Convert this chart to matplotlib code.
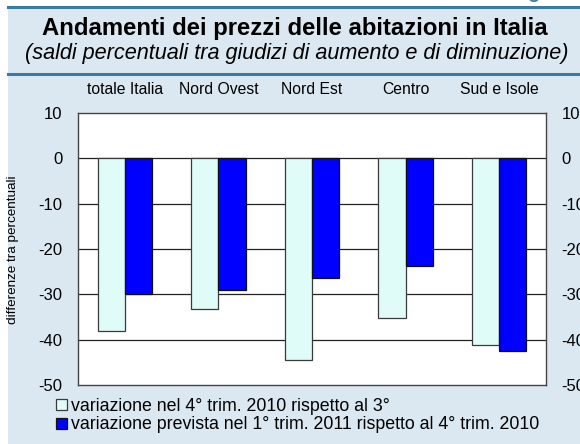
import matplotlib
matplotlib.use("Agg")
import matplotlib.pyplot as plt
import numpy as np
from matplotlib.patches import Rectangle
from matplotlib.lines import Line2D

plt.rcParams['font.family'] = ['Liberation Sans', 'DejaVu Sans']

categories = ["totale Italia", "Nord Ovest", "Nord Est", "Centro", "Sud e Isole"]
var_4trim_2010 = [-38.0, -33.3, -44.5, -35.3, -41.1]
var_prev_1trim_2011 = [-30.0, -29.1, -26.5, -23.7, -42.5]
series_labels = ["variazione nel 4° trim. 2010 rispetto al 3°",
                 "variazione prevista nel 1° trim. 2011 rispetto al 4° trim. 2010"]
yticks = [10, 0, -10, -20, -30, -40, -50]

W, H = 580, 444
fig = plt.figure(figsize=(W / 100, H / 100), dpi=100, facecolor="white")

panel_color = "#dce8f1"
line_color = "#3a7ca0"
fig.patches.append(Rectangle((8 / W, 0), 1 - 8 / W, 1 - 7 / H, transform=fig.transFigure,
                             facecolor=panel_color, edgecolor="none", zorder=-10))
for yy in (7, 74):
    fig.lines.append(Line2D([8 / W, 1], [1 - yy / H, 1 - yy / H], transform=fig.transFigure,
                            color=line_color, lw=2.2, zorder=-5))

fig.text(0.985, 1.0 + 7 / H, "Figura", ha="right", va="center", color=line_color,
         fontsize=14, fontweight="bold")

fig.text(295 / W, 1 - 28 / H, "Andamenti dei prezzi delle abitazioni in Italia",
         ha="center", va="center", fontsize=17.2, fontweight="bold", color="black")
fig.text(297 / W, 1 - 53 / H, "(saldi percentuali tra giudizi di aumento e di diminuzione)",
         ha="center", va="center", fontsize=15.6, style="italic", color="black")

left, right, top, bottom = 78, 546, 113, 385
ax = fig.add_axes([left / W, 1 - bottom / H, (right - left) / W, (bottom - top) / H])
ax.set_facecolor("white")

x = np.arange(len(categories))
w = 0.29
b1 = ax.bar(x - w / 2, var_4trim_2010, width=w, color="#e0fcf8", edgecolor="#3a3a3a",
            linewidth=0.9, zorder=3, label=series_labels[0])
b2 = ax.bar(x + w / 2, var_prev_1trim_2011, width=w, color="#0000ff", edgecolor="#111111",
            linewidth=0.9, zorder=3, label=series_labels[1])

ax.set_xlim(-0.5, len(categories) - 0.5)
ax.set_ylim(-50, 10)
ax.set_yticks(yticks)
ax.set_yticklabels([str(v) for v in yticks])
ax.tick_params(axis="y", length=0, labelsize=12, labelright=True, right=False)
ax.yaxis.set_tick_params(which="major", pad=11)
ax.set_xticks([])
for yv in yticks[1:-1]:
    ax.axhline(yv, color="#222222", lw=0.9, zorder=1)
for s in ax.spines.values():
    s.set_color("#444444")
    s.set_linewidth(1.0)

for xi, c in zip(x, categories):
    ax.text(xi, 1.085, c, transform=ax.get_xaxis_transform(), ha="center", va="center",
            fontsize=11.3)

fig.text(13 / W, 1 - 250 / H, "differenze tra percentuali", rotation=90, ha="center",
         va="center", fontsize=9.7)

leg = fig.legend(handles=[b1, b2], labels=series_labels, loc="upper left",
                 bbox_to_anchor=(56 / W, 1 - 398 / H), frameon=False, fontsize=12.8,
                 handlelength=0.6, handleheight=0.6, handletextpad=0.25,
                 labelspacing=0.08, borderaxespad=0, borderpad=0)

fig.savefig("out.png", dpi=100, facecolor=fig.get_facecolor())
